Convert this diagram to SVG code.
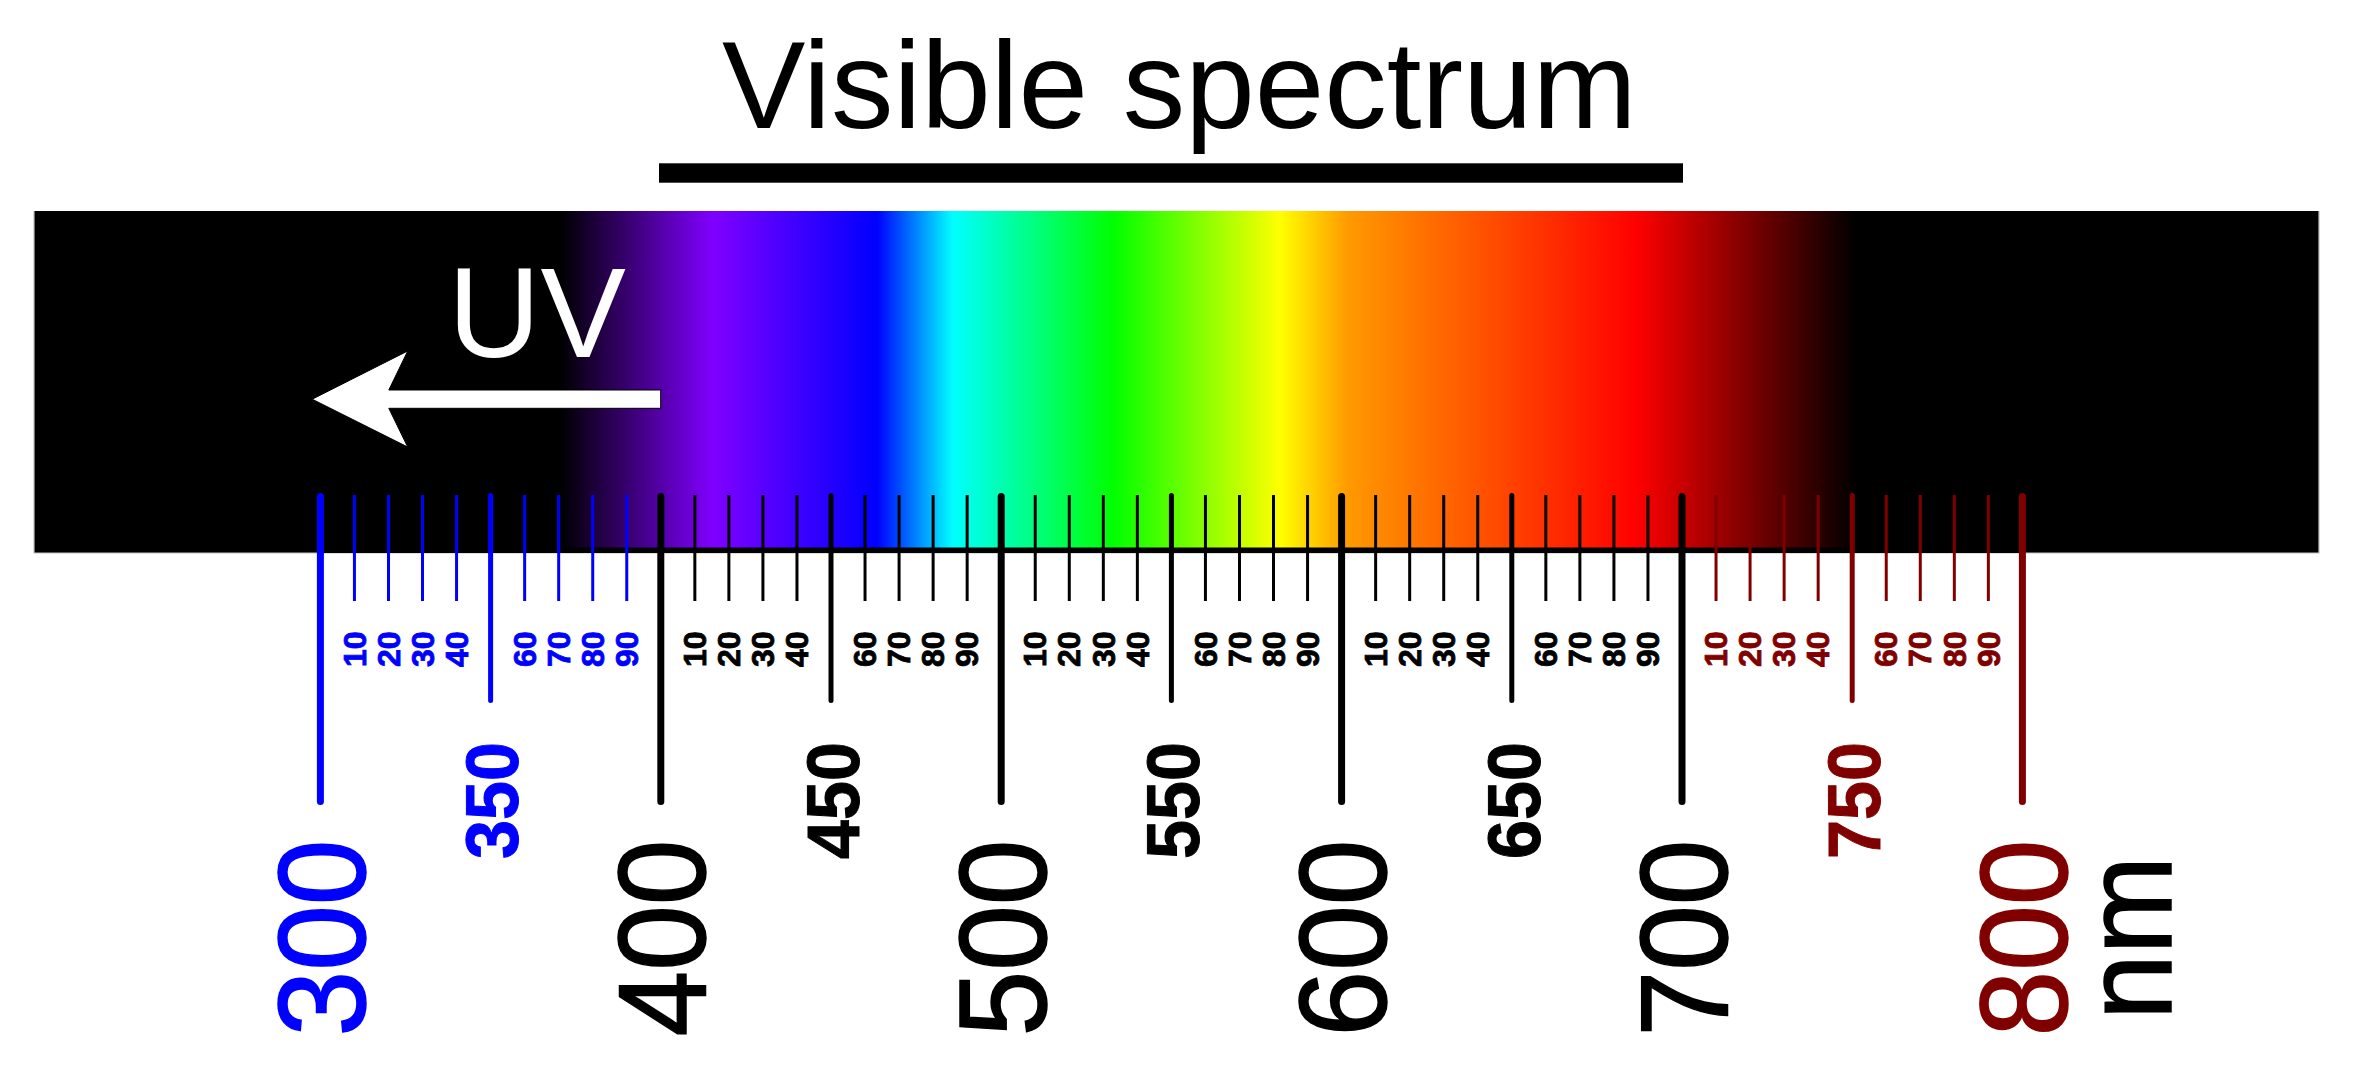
<svg xmlns="http://www.w3.org/2000/svg" width="2359" height="1073" viewBox="0 0 2359 1073">
<defs>
<linearGradient id="spec" gradientUnits="userSpaceOnUse" x1="320.4" y1="0" x2="2022.4" y2="0">
<stop offset="0.141" stop-color="#000000"/>
<stop offset="0.2306" stop-color="#8000ff"/>
<stop offset="0.327" stop-color="#0000ff"/>
<stop offset="0.3716" stop-color="#00ffff"/>
<stop offset="0.466" stop-color="#00ff00"/>
<stop offset="0.564" stop-color="#ffff00"/>
<stop offset="0.604" stop-color="#ff9900"/>
<stop offset="0.773" stop-color="#ff0000"/>
<stop offset="0.902" stop-color="#000000"/>
</linearGradient>
<style>
text{font-family:"Liberation Sans",Arial,sans-serif}
.tm{stroke-width:7;stroke-linecap:round}
.th{stroke-width:5;stroke-linecap:round}
.tn{stroke-width:3}
.b{stroke:#0000ff}.k{stroke:#000000}.r{stroke:#800000}
.fb{fill:#0000ff;stroke:#0000ff}.fk{fill:#000000;stroke:#000000}.fr{fill:#800000;stroke:#800000}
.sm{font-size:32px;font-weight:bold;stroke-width:0.8}
.md{font-size:75px;font-weight:bold;stroke-width:1}
.lg{font-size:124px;stroke-width:1.5}
</style>
</defs>
<rect width="2359" height="1073" fill="#ffffff"/>
<g id="title">
<text x="722" y="128.3" font-size="125" fill="#000">Visible spectrum</text>
<rect x="659" y="163.3" width="1024" height="19.4" fill="#000"/>
</g>
<g id="band">
<rect x="34" y="211" width="2285" height="342" fill="url(#spec)"/>
<path d="M34,211 V553 H2319 V211" fill="none" stroke="#c0c0c0" stroke-width="1.2"/>
</g>
<g id="uv">
<text x="448" y="357" font-size="128" fill="#ffffff">UV</text>
<path d="M312.2,399.2 L407.7,351 L388.8,390 L660.7,390 L660.7,408.3 L388.8,408.3 L407.7,447 Z" fill="#ffffff" stroke="#000" stroke-width="1"/>
</g>
<g id="connectors">
<line x1="320.4" y1="550.2" x2="2022.4" y2="550.2" stroke="#000" stroke-width="5.5"/>
<!-- 300s -->
<line class="tm b" x1="320.4" y1="496.5" x2="320.4" y2="801.5"/>
<line class="tn b" x1="354.44" y1="495" x2="354.44" y2="601"/>
<line class="tn b" x1="388.48" y1="495" x2="388.48" y2="601"/>
<line class="tn b" x1="422.52" y1="495" x2="422.52" y2="601"/>
<line class="tn b" x1="456.56" y1="495" x2="456.56" y2="601"/>
<line class="th b" x1="490.6" y1="495.5" x2="490.6" y2="700.5"/>
<line class="tn b" x1="524.64" y1="495" x2="524.64" y2="601"/>
<line class="tn b" x1="558.68" y1="495" x2="558.68" y2="601"/>
<line class="tn b" x1="592.72" y1="495" x2="592.72" y2="601"/>
<line class="tn b" x1="626.76" y1="495" x2="626.76" y2="601"/>
<!-- 400s -->
<line class="tm k" x1="660.8" y1="496.5" x2="660.8" y2="801.5"/>
<line class="tn k" x1="694.84" y1="495" x2="694.84" y2="601"/>
<line class="tn k" x1="728.88" y1="495" x2="728.88" y2="601"/>
<line class="tn k" x1="762.92" y1="495" x2="762.92" y2="601"/>
<line class="tn k" x1="796.96" y1="495" x2="796.96" y2="601"/>
<line class="th k" x1="831" y1="495.5" x2="831" y2="700.5"/>
<line class="tn k" x1="865.04" y1="495" x2="865.04" y2="601"/>
<line class="tn k" x1="899.08" y1="495" x2="899.08" y2="601"/>
<line class="tn k" x1="933.12" y1="495" x2="933.12" y2="601"/>
<line class="tn k" x1="967.16" y1="495" x2="967.16" y2="601"/>
<!-- 500s -->
<line class="tm k" x1="1001.2" y1="496.5" x2="1001.2" y2="801.5"/>
<line class="tn k" x1="1035.24" y1="495" x2="1035.24" y2="601"/>
<line class="tn k" x1="1069.28" y1="495" x2="1069.28" y2="601"/>
<line class="tn k" x1="1103.32" y1="495" x2="1103.32" y2="601"/>
<line class="tn k" x1="1137.36" y1="495" x2="1137.36" y2="601"/>
<line class="th k" x1="1171.4" y1="495.5" x2="1171.4" y2="700.5"/>
<line class="tn k" x1="1205.44" y1="495" x2="1205.44" y2="601"/>
<line class="tn k" x1="1239.48" y1="495" x2="1239.48" y2="601"/>
<line class="tn k" x1="1273.52" y1="495" x2="1273.52" y2="601"/>
<line class="tn k" x1="1307.56" y1="495" x2="1307.56" y2="601"/>
<!-- 600s -->
<line class="tm k" x1="1341.6" y1="496.5" x2="1341.6" y2="801.5"/>
<line class="tn k" x1="1375.64" y1="495" x2="1375.64" y2="601"/>
<line class="tn k" x1="1409.68" y1="495" x2="1409.68" y2="601"/>
<line class="tn k" x1="1443.72" y1="495" x2="1443.72" y2="601"/>
<line class="tn k" x1="1477.76" y1="495" x2="1477.76" y2="601"/>
<line class="th k" x1="1511.8" y1="495.5" x2="1511.8" y2="700.5"/>
<line class="tn k" x1="1545.84" y1="495" x2="1545.84" y2="601"/>
<line class="tn k" x1="1579.88" y1="495" x2="1579.88" y2="601"/>
<line class="tn k" x1="1613.92" y1="495" x2="1613.92" y2="601"/>
<line class="tn k" x1="1647.96" y1="495" x2="1647.96" y2="601"/>
<!-- 700s -->
<line class="tm k" x1="1682" y1="496.5" x2="1682" y2="801.5"/>
<line class="tn r" x1="1716.04" y1="495" x2="1716.04" y2="601"/>
<line class="tn r" x1="1750.08" y1="495" x2="1750.08" y2="601"/>
<line class="tn r" x1="1784.12" y1="495" x2="1784.12" y2="601"/>
<line class="tn r" x1="1818.16" y1="495" x2="1818.16" y2="601"/>
<line class="th r" x1="1852.2" y1="495.5" x2="1852.2" y2="700.5"/>
<line class="tn r" x1="1886.24" y1="495" x2="1886.24" y2="601"/>
<line class="tn r" x1="1920.28" y1="495" x2="1920.28" y2="601"/>
<line class="tn r" x1="1954.32" y1="495" x2="1954.32" y2="601"/>
<line class="tn r" x1="1988.36" y1="495" x2="1988.36" y2="601"/>
<line class="tm r" x1="2022.4" y1="496.5" x2="2022.4" y2="801.5"/>
</g>
<g id="minor-labels">
<text class="sm fb" transform="translate(365.64,667) rotate(-90)">10</text>
<text class="sm fb" transform="translate(399.68,667) rotate(-90)">20</text>
<text class="sm fb" transform="translate(433.72,667) rotate(-90)">30</text>
<text class="sm fb" transform="translate(467.76,667) rotate(-90)">40</text>
<text class="sm fb" transform="translate(535.84,667) rotate(-90)">60</text>
<text class="sm fb" transform="translate(569.88,667) rotate(-90)">70</text>
<text class="sm fb" transform="translate(603.92,667) rotate(-90)">80</text>
<text class="sm fb" transform="translate(637.96,667) rotate(-90)">90</text>
<text class="sm fk" transform="translate(706.04,667) rotate(-90)">10</text>
<text class="sm fk" transform="translate(740.08,667) rotate(-90)">20</text>
<text class="sm fk" transform="translate(774.12,667) rotate(-90)">30</text>
<text class="sm fk" transform="translate(808.16,667) rotate(-90)">40</text>
<text class="sm fk" transform="translate(876.24,667) rotate(-90)">60</text>
<text class="sm fk" transform="translate(910.28,667) rotate(-90)">70</text>
<text class="sm fk" transform="translate(944.32,667) rotate(-90)">80</text>
<text class="sm fk" transform="translate(978.36,667) rotate(-90)">90</text>
<text class="sm fk" transform="translate(1046.44,667) rotate(-90)">10</text>
<text class="sm fk" transform="translate(1080.48,667) rotate(-90)">20</text>
<text class="sm fk" transform="translate(1114.52,667) rotate(-90)">30</text>
<text class="sm fk" transform="translate(1148.56,667) rotate(-90)">40</text>
<text class="sm fk" transform="translate(1216.64,667) rotate(-90)">60</text>
<text class="sm fk" transform="translate(1250.68,667) rotate(-90)">70</text>
<text class="sm fk" transform="translate(1284.72,667) rotate(-90)">80</text>
<text class="sm fk" transform="translate(1318.76,667) rotate(-90)">90</text>
<text class="sm fk" transform="translate(1386.84,667) rotate(-90)">10</text>
<text class="sm fk" transform="translate(1420.88,667) rotate(-90)">20</text>
<text class="sm fk" transform="translate(1454.92,667) rotate(-90)">30</text>
<text class="sm fk" transform="translate(1488.96,667) rotate(-90)">40</text>
<text class="sm fk" transform="translate(1557.04,667) rotate(-90)">60</text>
<text class="sm fk" transform="translate(1591.08,667) rotate(-90)">70</text>
<text class="sm fk" transform="translate(1625.12,667) rotate(-90)">80</text>
<text class="sm fk" transform="translate(1659.16,667) rotate(-90)">90</text>
<text class="sm fr" transform="translate(1727.24,667) rotate(-90)">10</text>
<text class="sm fr" transform="translate(1761.28,667) rotate(-90)">20</text>
<text class="sm fr" transform="translate(1795.32,667) rotate(-90)">30</text>
<text class="sm fr" transform="translate(1829.36,667) rotate(-90)">40</text>
<text class="sm fr" transform="translate(1897.44,667) rotate(-90)">60</text>
<text class="sm fr" transform="translate(1931.48,667) rotate(-90)">70</text>
<text class="sm fr" transform="translate(1965.52,667) rotate(-90)">80</text>
<text class="sm fr" transform="translate(1999.56,667) rotate(-90)">90</text>
</g>
<g id="mid-labels">
<text class="md fb" transform="translate(518.3,859) rotate(-90)" textLength="117" lengthAdjust="spacingAndGlyphs">350</text>
<text class="md fk" transform="translate(858.7,859) rotate(-90)" textLength="117" lengthAdjust="spacingAndGlyphs">450</text>
<text class="md fk" transform="translate(1199.1,859) rotate(-90)" textLength="117" lengthAdjust="spacingAndGlyphs">550</text>
<text class="md fk" transform="translate(1539.5,859) rotate(-90)" textLength="117" lengthAdjust="spacingAndGlyphs">650</text>
<text class="md fr" transform="translate(1879.9,859) rotate(-90)" textLength="117" lengthAdjust="spacingAndGlyphs">750</text>
</g>
<g id="major-labels">
<text class="lg fb" transform="translate(364.9,1036.5) rotate(-90)" textLength="197" lengthAdjust="spacingAndGlyphs">300</text>
<text class="lg fk" transform="translate(705.3,1036.5) rotate(-90)" textLength="197" lengthAdjust="spacingAndGlyphs">400</text>
<text class="lg fk" transform="translate(1045.7,1036.5) rotate(-90)" textLength="197" lengthAdjust="spacingAndGlyphs">500</text>
<text class="lg fk" transform="translate(1386.1,1036.5) rotate(-90)" textLength="197" lengthAdjust="spacingAndGlyphs">600</text>
<text class="lg fk" transform="translate(1726.5,1036.5) rotate(-90)" textLength="197" lengthAdjust="spacingAndGlyphs">700</text>
<text class="lg fr" transform="translate(2066.9,1036.5) rotate(-90)" textLength="197" lengthAdjust="spacingAndGlyphs">800</text>
<text class="lg fk" transform="translate(2171,1020) rotate(-90)" textLength="164" lengthAdjust="spacingAndGlyphs">nm</text>
</g>
</svg>
